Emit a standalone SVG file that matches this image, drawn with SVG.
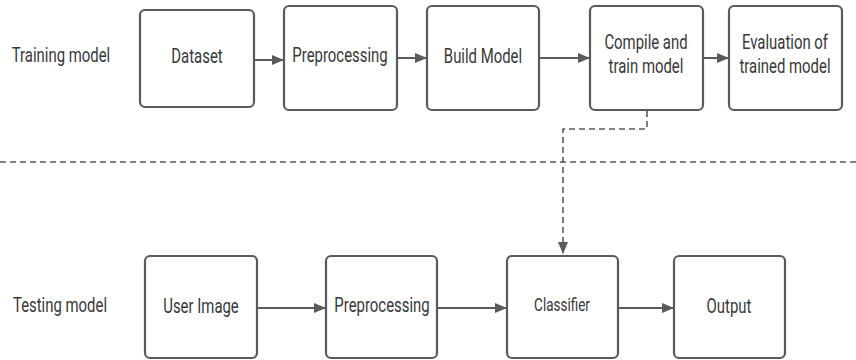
<svg xmlns="http://www.w3.org/2000/svg" width="856" height="360" viewBox="0 0 856 360">
<defs>
<style>
.box{fill:#fff;stroke:#5a5a5a;stroke-width:2.2}
.t{font-family:Roboto,"Liberation Sans",sans-serif;font-size:21px;fill:#383838;text-anchor:middle}
.c{stroke:#5a5a5a;stroke-width:2;fill:none}
.d{stroke:#5a5a5a;stroke-width:1.6;fill:none;stroke-dasharray:6 4}
</style>
<marker id="ah" viewBox="0 0 12 10" refX="12" refY="5" markerWidth="12" markerHeight="10" markerUnits="userSpaceOnUse" orient="auto">
<path d="M0,0 L12,5 L0,10 Z" fill="#5a5a5a"/>
</marker>
</defs>
<rect width="856" height="360" fill="#fff"/>
<text class="t" transform="translate(61,62) scale(0.71,1)">Training model</text>
<text class="t" transform="translate(60,312) scale(0.71,1)">Testing model</text>
<g id="dataset"><rect class="box" x="140" y="10" width="114" height="97" rx="5"/><text class="t" transform="translate(197,63) scale(0.71,1)">Dataset</text></g>
<g id="preprocessing1"><rect class="box" x="284" y="6" width="113" height="104" rx="5"/><text class="t" transform="translate(340,62) scale(0.71,1)">Preprocessing</text></g>
<g id="build"><rect class="box" x="427" y="6" width="112" height="104" rx="5"/><text class="t" transform="translate(483,63) scale(0.71,1)">Build Model</text></g>
<g id="compile"><rect class="box" x="590" y="6" width="113" height="104" rx="5"/><text class="t" transform="translate(646,49) scale(0.71,1)"><tspan x="0" dy="0">Compile and</tspan><tspan x="0" dy="24">train model</tspan></text></g>
<g id="evaluation"><rect class="box" x="729" y="6" width="113" height="104" rx="5"/><text class="t" transform="translate(785,49) scale(0.71,1)"><tspan x="0" dy="0">Evaluation of</tspan><tspan x="0" dy="24">trained model</tspan></text></g>
<g id="userimage"><rect class="box" x="145" y="256" width="112" height="102" rx="5"/><text class="t" transform="translate(201,313) scale(0.71,1)">User Image</text></g>
<g id="preprocessing2"><rect class="box" x="326" y="256" width="111" height="102" rx="5"/><text class="t" transform="translate(382,312) scale(0.71,1)">Preprocessing</text></g>
<g id="classifier"><rect class="box" x="507" y="256" width="111" height="102" rx="5"/><text class="t" transform="translate(562,311) scale(0.71,1)" style="font-size:19px">Classifier</text></g>
<g id="output"><rect class="box" x="674" y="256" width="111" height="102" rx="5"/><text class="t" transform="translate(729,313) scale(0.71,1)">Output</text></g>
<g id="connectors">
<line class="c" x1="254" y1="60" x2="284" y2="60" marker-end="url(#ah)"/>
<line class="c" x1="397" y1="58" x2="427" y2="58" marker-end="url(#ah)"/>
<line class="c" x1="539" y1="58" x2="590" y2="58" marker-end="url(#ah)"/>
<line class="c" x1="703" y1="58" x2="729" y2="58" marker-end="url(#ah)"/>
<line class="c" x1="257" y1="308" x2="326" y2="308" marker-end="url(#ah)"/>
<line class="c" x1="437" y1="308" x2="507" y2="308" marker-end="url(#ah)"/>
<line class="c" x1="618" y1="308" x2="674" y2="308" marker-end="url(#ah)"/>
<path class="d" d="M647,111 V129 H563 V254" marker-end="url(#ah)"/>
</g>
<line class="d" x1="0" y1="162" x2="856" y2="162" stroke-dasharray="7 5"/>
</svg>
